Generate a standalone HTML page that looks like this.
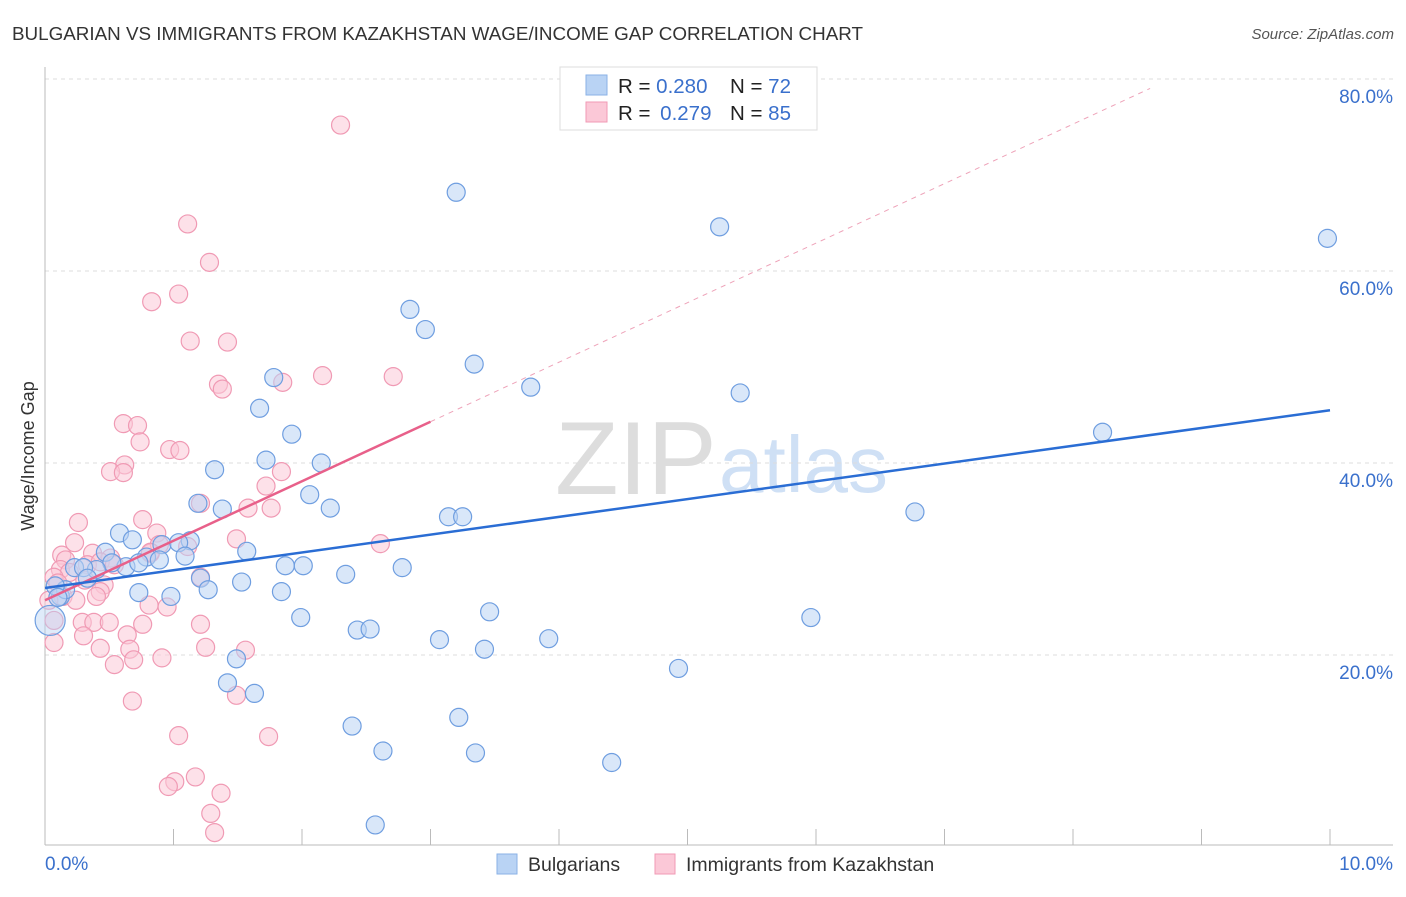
<!DOCTYPE html>
<html><head><meta charset="utf-8"><style>
body{margin:0;background:#fff;font-family:"Liberation Sans",sans-serif;}
svg text{font-family:"Liberation Sans",sans-serif;}
</style></head><body>
<svg id="chart" width="1406" height="892" viewBox="0 0 1406 892" xmlns="http://www.w3.org/2000/svg">
<text x="12" y="40" font-size="18.8" fill="#333" textLength="851" lengthAdjust="spacingAndGlyphs">BULGARIAN VS IMMIGRANTS FROM KAZAKHSTAN WAGE/INCOME GAP CORRELATION CHART</text>
<text x="1394" y="39" font-size="15" fill="#555" font-style="italic" text-anchor="end">Source: ZipAtlas.com</text>
<g>
<text x="555" y="494" font-size="104" fill="#ddd" font-family="Liberation Serif,serif">ZIP</text>
<text x="719" y="492" font-size="80" fill="#cfe0f5">atlas</text>
</g>
<g id="grid"></g>
<g id="axes"></g>
<g id="marks"></g>
<text transform="translate(34,456) rotate(-90)" font-size="18" fill="#333" text-anchor="middle">Wage/Income Gap</text>
<g>
<rect x="560" y="67" width="257" height="63" fill="#fff" stroke="#ddd"/>
<rect x="586" y="75" width="21" height="20" fill="#b9d3f4" stroke="#8ab1e6"/>
<rect x="586" y="102" width="21" height="20" fill="#fbc8d7" stroke="#f09ab4"/>
<text x="618" y="93" font-size="20.5" fill="#222">R = <tspan fill="#3a70cc">0.280</tspan></text>
<text x="730" y="93" font-size="20.5" fill="#222">N = <tspan fill="#3a70cc">72</tspan></text>
<text x="618" y="120" font-size="20.5" fill="#222">R = <tspan fill="#3a70cc" dx="4">0.279</tspan></text>
<text x="730" y="120" font-size="20.5" fill="#222">N = <tspan fill="#3a70cc">85</tspan></text>
</g>
<g>
<rect x="497" y="854" width="20" height="20" fill="#b9d3f4" stroke="#8ab1e6"/>
<text x="528" y="871" font-size="19.5" fill="#333">Bulgarians</text>
<rect x="655" y="854" width="20" height="20" fill="#fbc8d7" stroke="#f09ab4"/>
<text x="686" y="871" font-size="19.5" fill="#333">Immigrants from Kazakhstan</text>
</g>
</svg>
<script>
const yTicks=[20,40,60,80];
const yTickLabels=["20.0%","40.0%","60.0%","80.0%"];
const xTicks=[0,1,2,3,4,5,6,7,8,9,10];
const blueX=[3.20,5.25,9.98,2.84,2.96,3.34,3.78,5.41,1.78,1.67,8.23,1.92,2.15,1.72,1.32,2.06,2.22,1.19,1.38,3.14,3.25,6.77,0.58,0.68,0.91,1.13,1.04,0.47,0.79,1.09,1.57,0.89,0.63,0.52,1.87,2.01,2.34,2.78,1.21,1.53,1.27,0.73,0.98,1.84,0.12,0.16,0.08,0.40,0.23,3.46,1.99,5.96,2.43,2.53,3.07,3.92,3.42,1.49,4.93,1.42,1.63,2.39,3.22,2.63,3.35,4.41,2.57,0.04,0.30,0.73,0.10,0.33];
const blueY=[68.2,64.6,63.4,56.0,53.9,50.3,47.9,47.3,48.9,45.7,43.2,43.0,40.0,40.3,39.3,36.7,35.3,35.8,35.2,34.4,34.4,34.9,32.7,32.0,31.5,31.9,31.7,30.7,30.2,30.3,30.8,29.9,29.2,29.6,29.3,29.3,28.4,29.1,28.0,27.6,26.8,26.5,26.1,26.6,26.1,26.8,27.2,28.9,29.1,24.5,23.9,23.9,22.6,22.7,21.6,21.7,20.6,19.6,18.6,17.1,16.0,12.6,13.5,10.0,9.8,8.8,2.3,23.6,29.1,29.6,26.0,28.0];
const pinkX=[2.30,1.11,1.28,1.04,0.83,1.13,1.42,1.35,1.38,1.85,2.16,2.71,0.61,0.72,0.74,0.97,1.05,0.62,0.51,0.61,1.84,1.72,1.21,1.76,1.58,0.26,0.76,0.87,1.49,2.61,0.23,0.13,0.37,0.16,0.33,0.51,0.12,0.19,0.43,0.54,0.82,0.89,1.21,0.07,0.31,0.46,0.43,0.14,0.03,0.81,0.95,0.40,0.29,0.38,0.50,1.21,0.07,0.76,0.30,0.64,1.25,1.56,0.43,0.66,0.07,0.91,0.69,0.54,1.49,0.68,1.04,1.74,1.17,1.01,0.96,1.37,1.29,1.32,0.10,0.82,0.24,1.11];
const pinkY=[75.2,64.9,60.9,57.6,56.8,52.7,52.6,48.2,47.7,48.4,49.1,49.0,44.1,43.9,42.2,41.4,41.3,39.8,39.1,39.0,39.1,37.6,35.8,35.3,35.3,33.8,34.1,32.7,32.1,31.6,31.7,30.4,30.6,29.9,29.4,30.1,28.9,28.6,29.7,29.4,30.6,31.5,28.1,28.1,27.8,27.3,26.6,26.1,25.7,25.2,25.0,26.1,23.4,23.4,23.4,23.2,23.6,23.2,22.0,22.1,20.8,20.5,20.7,20.6,21.3,19.7,19.5,19.0,15.8,15.2,11.6,11.5,7.3,6.8,6.3,5.6,3.5,1.5,27.5,30.7,25.7,31.3];
const blueTrend=[26.98,45.5];
const pinkTrend=[25.7,44.3];
const pinkSolidEnd=3, pinkDashEnd=8.6;

const NS="http://www.w3.org/2000/svg";
const sx=v=>45+v*128.5, sy=v=>847-v*9.6;
function mk(tag,attrs,parent){const e=document.createElementNS(NS,tag);for(const k in attrs)e.setAttribute(k,attrs[k]);parent.appendChild(e);return e;}
const grid=document.getElementById('grid'),axes=document.getElementById('axes'),marks=document.getElementById('marks');
yTicks.forEach((t,i)=>{
  const l=mk('line',{x1:45,x2:1393,y1:sy(t),y2:sy(t),stroke:'#ddd','stroke-dasharray':'4,4'},grid);
  
  
  const tx=mk('text',{x:1393,y:sy(t)+24,'font-size':19,fill:'#3a70cc','text-anchor':'end'},axes);
  tx.textContent=yTickLabels[i];
  
  
});
const la=mk('line',{x1:45,x2:45,y1:67,y2:845,stroke:'#bbb'},axes);


const ba=mk('line',{x1:45,x2:1393,y1:845,y2:845,stroke:'#bbb'},axes);


xTicks.forEach(t=>{
  const l=mk('line',{x1:sx(t),x2:sx(t),y1:829,y2:845,stroke:'#bbb'},axes);
  
  
});
const x0=mk('text',{x:45,y:870,'font-size':19,fill:'#3a70cc'},axes);x0.textContent='0.0%';


const x1=mk('text',{x:1393,y:870,'font-size':19,fill:'#3a70cc','text-anchor':'end'},axes);x1.textContent='10.0%';


function dots(xs,ys,fill,stroke,name){
  xs.forEach((x,i)=>{
    const big=(name==='bulgarian-point'&&i===67);
    const c=mk('circle',{cx:sx(x),cy:sy(ys[i]),r:big?15:9,fill:fill,'fill-opacity':big?0.45:0.55,stroke:stroke,'stroke-width':1.2},marks);
    
    
  });
}
dots(pinkX,pinkY,'#fbc8d7','#f09ab4','kazakhstan-point');
dots(blueX,blueY,'#b9d3f4','#6f9ee0','bulgarian-point');
const ps=(pinkTrend[1]-pinkTrend[0])/3;
const pd=mk('line',{x1:sx(pinkSolidEnd),y1:sy(pinkTrend[0]+ps*pinkSolidEnd),x2:sx(pinkDashEnd),y2:sy(pinkTrend[0]+ps*pinkDashEnd),stroke:'#eea3b9','stroke-width':1,'stroke-dasharray':'5,5'},marks);


const pl=mk('line',{x1:sx(0),y1:sy(pinkTrend[0]),x2:sx(pinkSolidEnd),y2:sy(pinkTrend[0]+ps*pinkSolidEnd),stroke:'#e8608a','stroke-width':2.5},marks);


const bl=mk('line',{x1:sx(0),y1:sy(blueTrend[0]),x2:sx(10),y2:sy(blueTrend[1]),stroke:'#2a6dd4','stroke-width':2.5},marks);


</script>
</body></html>
